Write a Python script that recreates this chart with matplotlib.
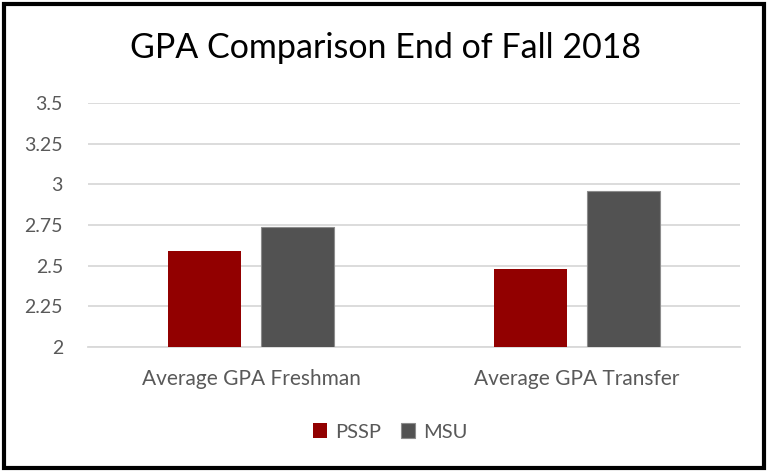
import matplotlib
matplotlib.use("Agg")
import matplotlib.pyplot as plt
import numpy as np
from matplotlib.patches import Rectangle

categories = ["Average GPA Freshman", "Average GPA Transfer"]
series_names = ["PSSP", "MSU"]
pssp = [2.59, 2.48]
msu = [2.74, 2.96]
yticks = [2, 2.25, 2.5, 2.75, 3, 3.25, 3.5]
ytick_labels = ["2", "2.25", "2.5", "2.75", "3", "3.25", "3.5"]

RED = "#920000"
GRAY = "#525252"
TXT = "#595959"
plt.rcParams["font.family"] = ["Lato", "DejaVu Sans"]

fig = plt.figure(figsize=(7.68, 4.72), dpi=100)
ax = fig.add_axes([88 / 768, 1 - 347 / 472, 652 / 768, 244 / 472])

x = np.arange(len(categories))
w = 0.225
off = 0.142
ax.bar(x - off, pssp, w, color=RED, label=series_names[0], zorder=3)
ax.bar(x + off, msu, w, color=GRAY, edgecolor="#8c8c8c", linewidth=0.8,
       label=series_names[1], zorder=3)

ax.set_xlim(-0.5, 1.5)
ax.set_ylim(2, 3.5)
ax.set_yticks(yticks)
ax.set_yticklabels(ytick_labels)
ax.set_xticks(x)
ax.set_xticklabels(categories)
ax.tick_params(axis="y", length=0, pad=18, labelsize=14, labelcolor=TXT)
ax.tick_params(axis="x", length=0, pad=16, labelsize=15, labelcolor=TXT)
ax.grid(axis="y", color="#d9d9d9", linewidth=1.3, zorder=0)
for s in ["top", "right", "left"]:
    ax.spines[s].set_visible(False)
ax.spines["bottom"].set_color("#d9d9d9")
ax.spines["bottom"].set_linewidth(1.3)

fig.text(385 / 768, 1 - 48 / 472, "GPA Comparison End of Fall 2018",
         ha="center", va="center", fontsize=24.5, color="black")

leg = fig.legend(loc="center", bbox_to_anchor=(390 / 768, 1 - 432 / 472),
                 ncol=2, frameon=False, fontsize=14.5, handlelength=0.7,
                 handleheight=0.7, handletextpad=0.4, columnspacing=1.0)
for t in leg.get_texts():
    t.set_color(TXT)

fig.patches.append(Rectangle((4 / 768, 4 / 472), 1 - 8 / 768, 1 - 8 / 472,
                             transform=fig.transFigure, fill=False,
                             edgecolor="black", linewidth=3))

fig.savefig("out.png", dpi=100)
